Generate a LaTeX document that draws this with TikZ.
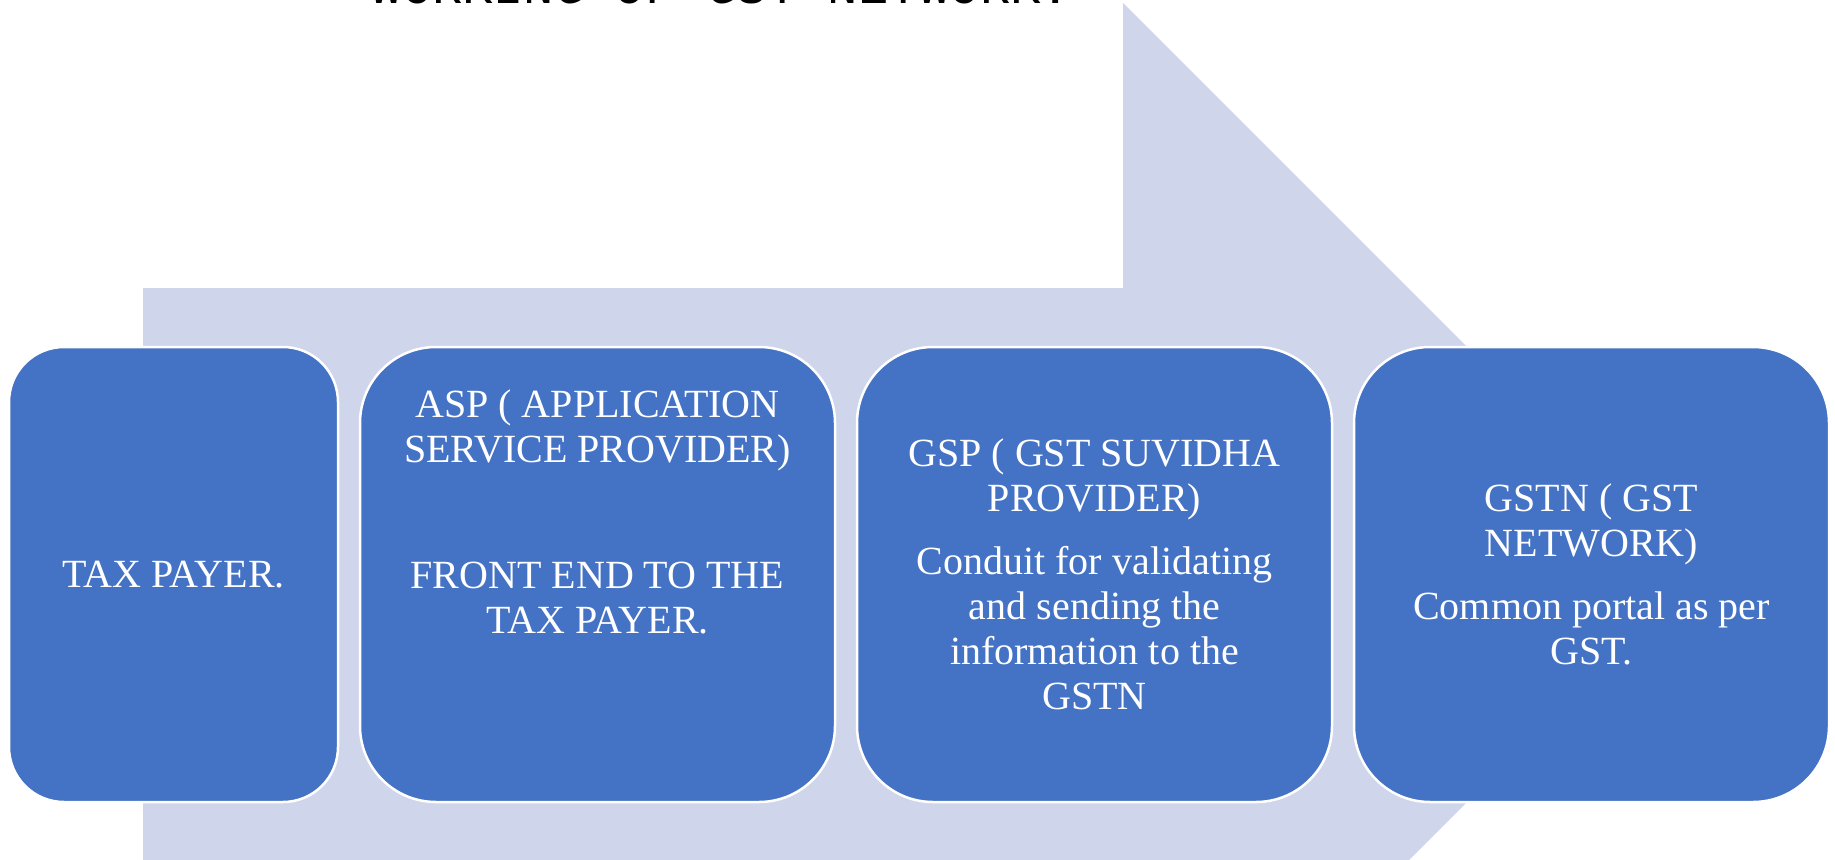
\documentclass[tikz,border=0pt]{standalone}
\usepackage{fontspec}
\setmainfont{Liberation Serif}
\newfontfamily\titlefont{Liberation Mono}
\usetikzlibrary{positioning}
\definecolor{cardblue}{HTML}{4472C4}
\definecolor{flowlilac}{HTML}{CFD5EA}

\begin{document}
\begin{tikzpicture}[x=1pt,y=-1pt,node distance=22pt,
   stagebox/.style={draw=white,line width=2.5pt,fill=cardblue,text=white,
             minimum height=455pt,align=center,inner sep=0pt,outer sep=0pt,
             font=\fontsize{40}{45}\selectfont}]
  \useasboundingbox (0,0) rectangle (1835,859);
  \clip (0,0) rectangle (1835,859);
  % big arrow behind the stages
  \fill[flowlilac] (143,288) -- (1123,288) -- (1123,3) -- (1694.5,574.5)
     -- (1123,1146) -- (1123,861) -- (143,861) -- cycle;
  \node[anchor=base,font=\titlefont\fontsize{50.7}{60}\selectfont] (title) at (721.5,4)
     {WORKING OF GST NETWORK.};
  \node[stagebox,minimum width=329pt,rounded corners=55pt] (tax) at (173.5,574.5) {TAX PAYER.};
  \node[stagebox,minimum width=475pt,rounded corners=76pt,right=of tax] (asp)
     {ASP ( APPLICATION\\SERVICE PROVIDER)\\[18pt]\mbox{}\\[18pt]FRONT END TO THE\\TAX PAYER.\\[18pt]\mbox{}\\[18pt]\mbox{}};
  \node[stagebox,minimum width=475pt,rounded corners=76pt,right=of asp] (gsp)
     {GSP ( GST SUVIDHA\\PROVIDER)\\[18pt]Conduit for validating\\and sending the\\information to the\\GSTN};
  \node[stagebox,minimum width=475pt,rounded corners=76pt,right=of gsp] (gstn)
     {GSTN ( GST\\NETWORK)\\[18pt]Common portal as per\\GST.};
\end{tikzpicture}
\end{document}
